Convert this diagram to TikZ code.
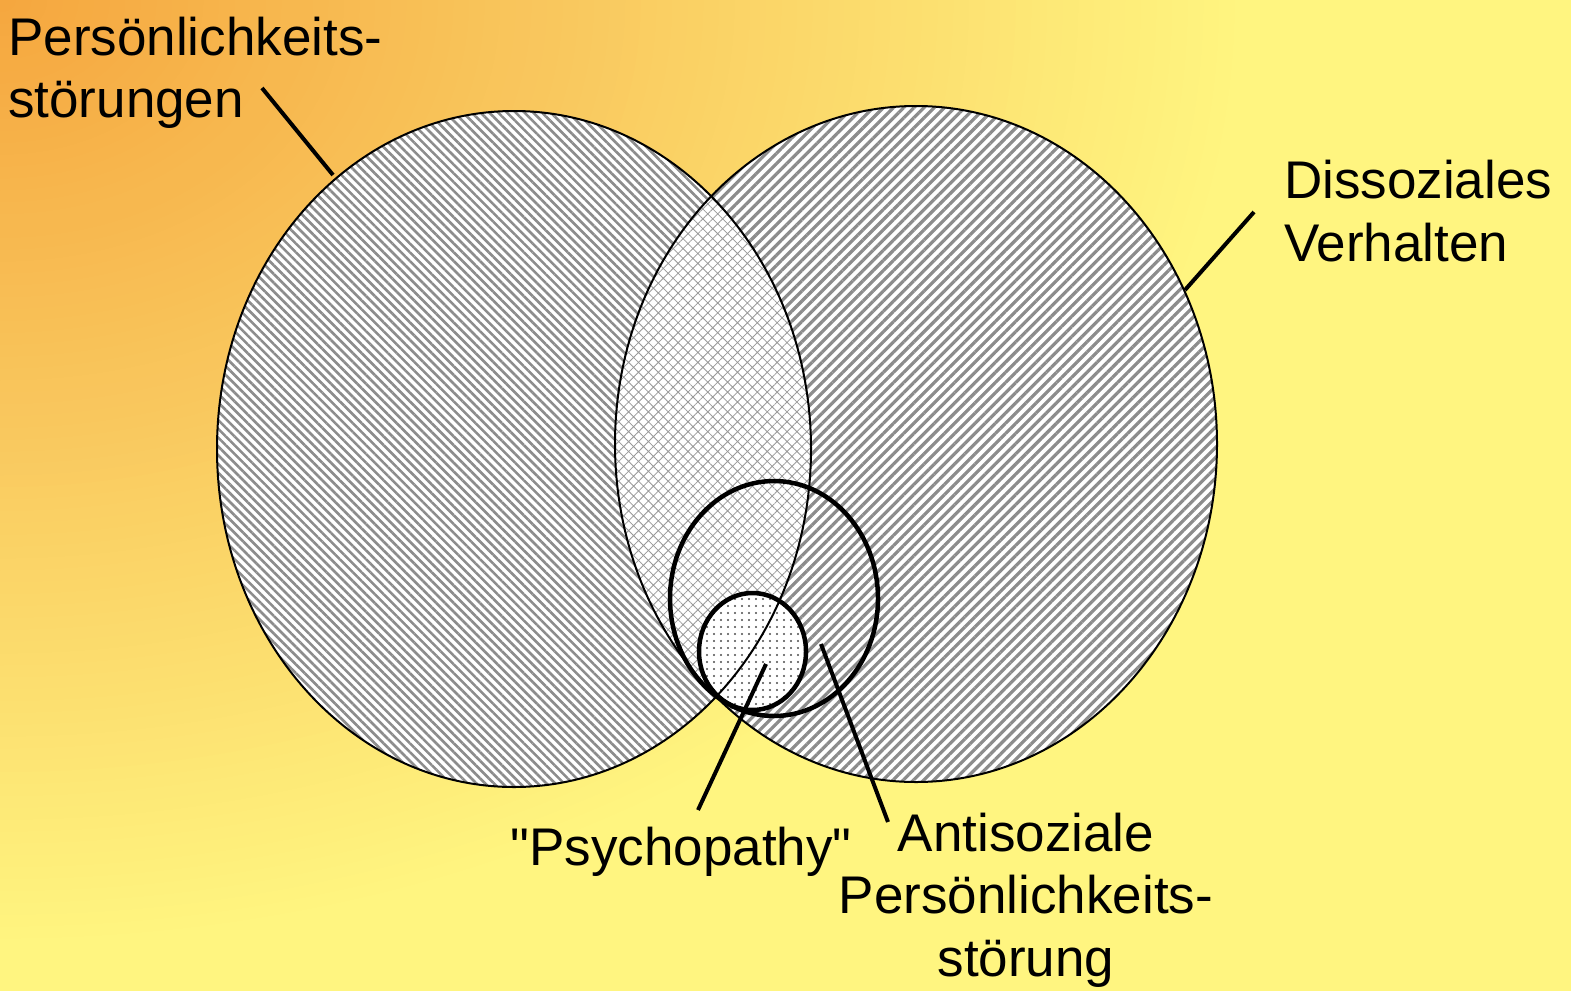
\documentclass[tikz,border=0pt]{standalone}
\usepackage{fontspec}
\setmainfont{Liberation Sans}
\font\plainsans="Liberation Sans" at 53pt
\usetikzlibrary{patterns.meta}
\definecolor{bgorange}{RGB}{245,166,62}
\definecolor{bgmid}{RGB}{249,200,94}
\definecolor{bgyellow}{RGB}{255,245,128}
\begin{document}
\begin{tikzpicture}[x=1pt,y=-1pt,
  lbl/.style={font=\fontsize{53}{62.5}\selectfont, inner sep=0pt},
  rim/.style={line width=2pt, draw=black},
  ring/.style={line width=4.5pt, draw=black},
  leader/.style={line width=4pt, draw=black},
  leftfill/.style={fill=white, postaction={pattern={Lines[angle=-45,distance=6.2pt,line width=2.6pt]}, pattern color=black!45}},
  rightfill/.style={fill=white, postaction={pattern={Lines[angle=45,distance=7.2pt,line width=3.2pt]}, pattern color=black!45}},
  lensfill/.style={fill=white, postaction={pattern={Hatch[angle=45,distance=7pt,line width=0.8pt]}, pattern color=black!40}},
  dotfill/.style={fill=white, postaction={pattern={Dots[distance=7pt,radius=1.1pt]}, pattern color=black!70}}]
\useasboundingbox (0,0) rectangle (1571,991);
% background glow from the top left corner
\begin{scope}
  \clip (0,0) rectangle (1571,991);
  \fill[bgyellow] (0,0) rectangle (1571,991);
  \foreach \i in {80,79,...,1}{
    \pgfmathsetmacro\t{\i/80}
    \pgfmathsetmacro\rx{\t*1250}
    \pgfmathsetmacro\ry{\t*950}
    \ifdim\t pt<0.46pt
      \pgfmathsetmacro\p{100*\t/0.46}
      \colorlet{glow}{bgmid!\p!bgorange}
    \else
      \pgfmathsetmacro\p{100*(\t-0.46)/0.54}
      \colorlet{glow}{bgyellow!\p!bgmid}
    \fi
    \fill[glow] (0,0) ellipse [x radius=\rx pt, y radius=\ry pt];
  }
\end{scope}
% the two large sets
\path[leftfill] (514,449) ellipse [x radius=297pt, y radius=338pt];
\path[rightfill] (916,444) ellipse [x radius=301pt, y radius=338pt];
\begin{scope}
  \clip (514,449) ellipse [x radius=297pt, y radius=338pt];
  \path[lensfill] (916,444) ellipse [x radius=301pt, y radius=338pt];
\end{scope}
% psychopathy fill
\path[dotfill] (752.5,651.5) ellipse [x radius=53.5pt, y radius=58.5pt];
% outlines
\draw[rim] (514,449) ellipse [x radius=297pt, y radius=338pt];
\draw[rim] (916,444) ellipse [x radius=301pt, y radius=338pt];
\draw[ring] (774,598.5) ellipse [x radius=104pt, y radius=117.5pt];
\draw[ring] (752.5,651.5) ellipse [x radius=53.5pt, y radius=58.5pt];
% labels (base anchor = baseline of the last line)
\node[lbl, anchor=base west, align=left] (ps) at (8,117.5) {Persönlichkeits-\\störungen};
\node[lbl, anchor=base west, align=left] (dv) at (1284,261) {Dissoziales\\Verhalten};
\node[lbl, anchor=base] (py) at (681,865) {\plainsans "Psychopathy"};
\node[lbl, anchor=base, align=center] (ap) at (1026,976) {Antisoziale\\Persönlichkeits-\\störung};
% leader ends
\coordinate (psA) at (262,88);  \coordinate (psB) at (333,175);
\coordinate (dvA) at (1254,212); \coordinate (dvB) at (1185,290);
\coordinate (pyA) at (698,810); \coordinate (pyB) at (766,664);
\coordinate (apA) at (888,822); \coordinate (apB) at (821,644);
\draw[leader] (psA) -- (psB);
\draw[leader] (dvA) -- (dvB);
\draw[leader] (pyA) -- (pyB);
\draw[leader] (apA) -- (apB);
\end{tikzpicture}
\end{document}
